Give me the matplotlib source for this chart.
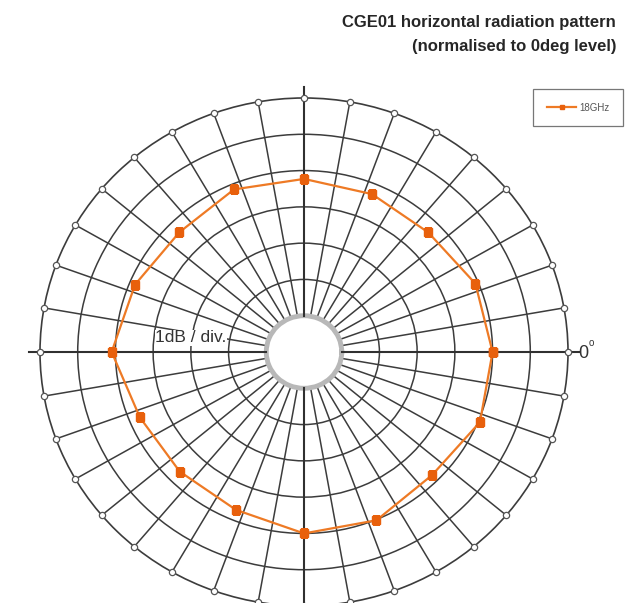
import numpy as np
import matplotlib
matplotlib.use("Agg")
import matplotlib.pyplot as plt

# ---- data ----
angles_deg = [0, 22.5, 45, 67.5, 90, 112.5, 135, 157.5, 180,
              202.5, 225, 247.5, 270, 292.5, 315, 337.5]
level_db = [0.0, -0.08, -0.34, -0.29, -0.23, -0.15, -0.33, -0.15, 0.1,
            -0.29, -0.34, -0.29, 0.0, 0.02, -0.2, 0.05]
series_name = "18GHz"
title_lines = ["CGE01 horizontal radiation pattern", "(normalised to 0deg level)"]
ring_levels = [-3, -2, -1, 0, 1]
r_min, r_max, r_origin = -4, 2, -5
spoke_step = 10

W, H = 627, 603
fig = plt.figure(figsize=(W / 100, H / 100), dpi=100)
plt.rcParams['font.family'] = ['Liberation Sans', 'DejaVu Sans']

cx, cy = 304, 352
rx, ry = 264, 254
ax = fig.add_axes([(cx - rx) / W, (H - cy - ry) / H, 2 * rx / W, 2 * ry / H],
                  projection='polar')
ax.set_aspect('auto')
ax.set_rorigin(r_origin)
ax.set_ylim(r_min, r_max)

grid_col = '#3c3c3c'
ax.set_thetagrids(np.arange(0, 360, spoke_step), labels=[])
ax.set_rgrids(ring_levels, labels=[])
ax.grid(True, color=grid_col, linewidth=1.1)
ax.tick_params(length=0)
ax.spines['polar'].set_color(grid_col)
ax.spines['polar'].set_linewidth(1.2)
ax.spines['inner'].set_color('#b8b8b8')
ax.spines['inner'].set_linewidth(3.5)

# main axes darker and slightly extended
for a in [0, 90, 180, 270]:
    ax.plot([np.deg2rad(a)] * 2, [r_min, r_max + 0.3], color='#303030',
            lw=1.5, clip_on=False, zorder=3)

# small hollow circles at the ends of spokes
sp = np.deg2rad(np.arange(0, 360, spoke_step))
ax.plot(sp, np.full(sp.shape, r_max), 'o', ms=4.5, mfc='white', mec='#555555',
        mew=0.9, clip_on=False, zorder=4)

# data
th = np.deg2rad(np.array(angles_deg + [angles_deg[0]]))
rr = np.array(level_db + [level_db[0]])
ax.plot(th, rr, color='#EE7A25', lw=1.6, marker='s', ms=5.5,
        mfc='#E8600C', mec='#E8600C', label=series_name, zorder=5)

ax.set_facecolor('white')

# text
fig.text(616 / W, 1 - 23 / H, title_lines[0], ha='right', va='center',
         fontsize=12, fontweight='bold', color='#262626')
fig.text(616 / W, 1 - 47 / H, title_lines[1], ha='right', va='center',
         fontsize=12, fontweight='bold', color='#262626')

fig.text(191 / W, 1 - 338 / H, "1dB / div.", ha='center', va='center',
         fontsize=12.5, color='#333333',
         bbox=dict(facecolor='white', edgecolor='none', pad=0.5), zorder=6)
fig.text(578 / W, 1 - 353 / H, "0", ha='left', va='center',
         fontsize=13, color='#333333')
fig.text(589 / W, 1 - 343 / H, "o", ha='left', va='center',
         fontsize=7, color='#333333')

leg = ax.legend(loc='upper right', bbox_to_anchor=(623 / W, 1 - 89 / H),
                bbox_transform=fig.transFigure, fontsize=7, frameon=True,
                fancybox=False, borderpad=1.4, handlelength=3.0,
                handletextpad=0.3, markerscale=0.6, borderaxespad=0)
leg.get_frame().set_edgecolor('#555555')
leg.get_frame().set_linewidth(0.9)
for t in leg.get_texts():
    t.set_color('#555555')

fig.savefig('out.png', dpi=100)
